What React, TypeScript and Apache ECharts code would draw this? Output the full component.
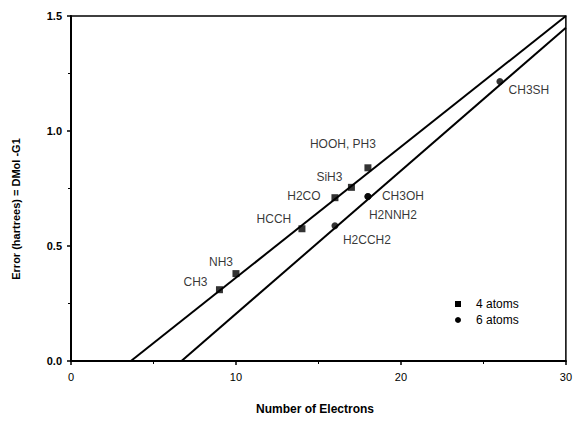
import React, { useEffect, useRef } from "react";
import * as echarts from "echarts";

// 4-atom molecules
const fourNames = ["CH3", "NH3", "HCCH", "H2CO", "SiH3", "HOOH, PH3"];
const fourX = [9, 10, 14, 16, 17, 18];
const fourY = [0.31, 0.38, 0.575, 0.71, 0.755, 0.84];
// 6-atom molecules
const sixNames = ["H2CCH2", "CH3OH", "CH3SH"];
const sixX = [16, 18, 26];
const sixY = [0.588, 0.715, 1.215];
// second label sharing the 18-electron 6-atom point
const extraNames = ["H2NNH2"];
const extraX = [18];
const extraY = [0.715];
// fitted lines (end points)
const fit4X = [3.63, 30];
const fit4Y = [0, 1.5];
const fit6X = [6.7, 30];
const fit6Y = [0, 1.449];

const xTicks = [0, 10, 20, 30];
const yTicks = [0, 0.5, 1.0, 1.5];

// label offsets (px) relative to the point
const fourOffsets = [[-24, -8], [-15, -12], [-28, -10], [-31, -2], [-22, -10], [-25, -24]];
const sixOffsets = [[32, 14], [35, -1], [29, 8]];
const extraOffsets = [[25, 18]];

const FONT = "Liberation Sans, Arial, Helvetica, sans-serif";

export default function App() {
  const ref = useRef<HTMLDivElement>(null);
  useEffect(() => {
    if (!ref.current) return;
    const chart = echarts.init(ref.current, null, { renderer: "svg" });
    const lbl = (off: number[]) => ({
      show: true,
      position: "inside",
      offset: off,
      align: "center",
      verticalAlign: "middle",
      color: "#000",
      fontSize: 12,
      fontFamily: FONT,
    });
    chart.setOption({
      animation: false,
      backgroundColor: "#fff",
      textStyle: { fontFamily: FONT },
      grid: {
        left: 71,
        right: 8,
        top: 16,
        bottom: 61,
        show: true,
        borderColor: "#000",
        borderWidth: 1.5,
      },
      xAxis: {
        type: "value",
        min: xTicks[0],
        max: xTicks[xTicks.length - 1],
        interval: 10,
        axisLine: { show: true, onZero: false, lineStyle: { color: "#000", width: 2 } },
        axisTick: { show: true, length: 4, lineStyle: { color: "#000", width: 1.5 } },
        minorTick: { show: true, splitNumber: 2, length: 3, lineStyle: { color: "#000", width: 1 } },
        splitLine: { show: false },
        axisLabel: { color: "#000", fontSize: 11, margin: 10, fontFamily: FONT, showMaxLabel: true, showMinLabel: true },
      },
      yAxis: {
        type: "value",
        min: yTicks[0],
        max: yTicks[yTicks.length - 1],
        interval: 0.5,
        axisLine: { show: true, onZero: false, lineStyle: { color: "#000", width: 2 } },
        axisTick: { show: true, length: 4, lineStyle: { color: "#000", width: 1.5 } },
        minorTick: { show: true, splitNumber: 2, length: 3, lineStyle: { color: "#000", width: 1 } },
        splitLine: { show: false },
        axisLabel: {
          color: "#000",
          fontSize: 11,
          fontWeight: "bold",
          margin: 9,
          fontFamily: FONT,
          formatter: (v: number) => v.toFixed(1),
        },
      },
      graphic: [
        {
          type: "text",
          x: 16,
          y: 209,
          rotation: Math.PI / 2,
          style: {
            text: "Error (hartrees) = DMol -G1",
            fill: "#000",
            font: `bold 11px ${FONT}`,
            align: "center",
            verticalAlign: "middle",
          },
        },
        {
          type: "text",
          x: 315,
          y: 409,
          style: {
            text: "Number of Electrons",
            fill: "#000",
            font: `bold 12px ${FONT}`,
            align: "center",
            verticalAlign: "middle",
          },
        },
        { type: "rect", shape: { x: 455, y: 301, width: 6, height: 6 }, style: { fill: "#000" } },
        { type: "circle", shape: { cx: 458, cy: 320, r: 3 }, style: { fill: "#000" } },
        {
          type: "text",
          x: 476,
          y: 304,
          style: { text: "4 atoms", fill: "#000", font: `12px ${FONT}`, verticalAlign: "middle" },
        },
        {
          type: "text",
          x: 476,
          y: 320,
          style: { text: "6 atoms", fill: "#000", font: `12px ${FONT}`, verticalAlign: "middle" },
        },
      ],
      series: [
        {
          type: "line",
          data: fit4X.map((x, i) => [x, fit4Y[i]]),
          symbol: "none",
          lineStyle: { color: "#000", width: 2 },
          silent: true,
          z: 1,
        },
        {
          type: "line",
          data: fit6X.map((x, i) => [x, fit6Y[i]]),
          symbol: "none",
          lineStyle: { color: "#000", width: 2 },
          silent: true,
          z: 1,
        },
        {
          name: "4 atoms",
          type: "scatter",
          symbol: "rect",
          symbolSize: 7,
          itemStyle: { color: "#000" },
          z: 3,
          data: fourX.map((x, i) => ({
            name: fourNames[i],
            value: [x, fourY[i]],
            label: { ...lbl(fourOffsets[i]), formatter: fourNames[i] },
          })),
        },
        {
          name: "6 atoms",
          type: "scatter",
          symbol: "circle",
          symbolSize: 7,
          itemStyle: { color: "#000" },
          z: 3,
          data: sixX.map((x, i) => ({
            name: sixNames[i],
            value: [x, sixY[i]],
            label: { ...lbl(sixOffsets[i]), formatter: sixNames[i] },
          })),
        },
        {
          type: "scatter",
          symbol: "circle",
          symbolSize: 7,
          itemStyle: { color: "#000" },
          z: 3,
          data: extraX.map((x, i) => ({
            name: extraNames[i],
            value: [x, extraY[i]],
            label: { ...lbl(extraOffsets[i]), formatter: extraNames[i] },
          })),
        },
      ],
    });
    return () => chart.dispose();
  }, []);
  return <div ref={ref} style={{ position: "absolute", left: 0, top: 0, width: 575, height: 422 }} />;
}
